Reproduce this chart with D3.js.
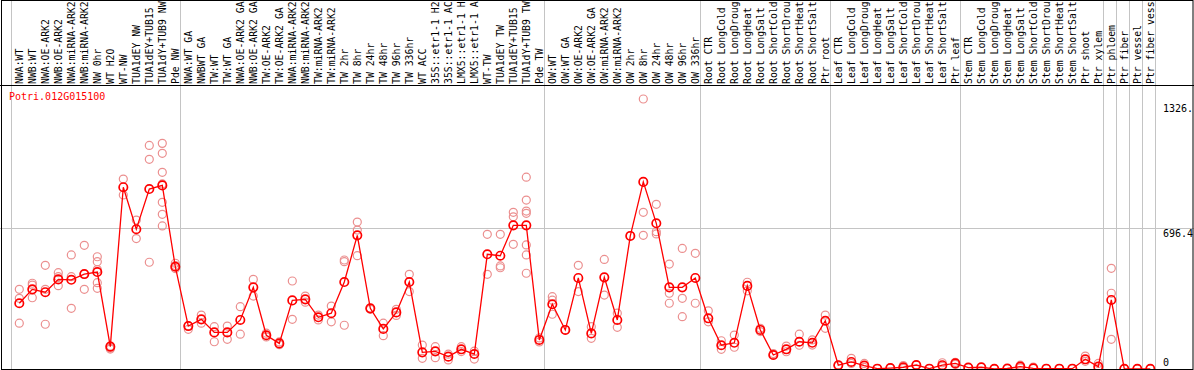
<!DOCTYPE html>
<html><head><meta charset="utf-8">
<script src="https://cdn.jsdelivr.net/npm/d3@7"></script>
<style>
body{margin:0;background:#fff}
svg{display:block}
text{font-family:"DejaVu Sans Mono",monospace;font-size:10px}
</style>
</head><body>
<svg id="c" width="1194" height="370"></svg>
<script>
const title = "Potri.012G015100";
const categories = [
"NWA:WT","NWB:WT","NWA:OE-ARK2","NWB:OE-ARK2","NWA:miRNA-ARK2","NWB:miRNA-ARK2","NW 0hr","WT H2O","WT-NW","TUA1dEY NW","TUA1dEY+TUB15 NW","TUA1dY+TUB9 NW","Pde NW",
"NWA:WT GA","NWBWT GA","TW:WT","TW:WT GA","NWA:OE-ARK2 GA","NWB:OE-ARK2 GA","TW:OE-ARK2","TW:OE-ARK2 GA","NWA:miRNA-ARK2","NWB:miRNA-ARK2","TW:miRNA-ARK2","TW:miRNA-ARK2",
"TW 2hr","TW 8hr","TW 24hr","TW 48hr","TW 96hr","TW 336hr","WT ACC","35S::etr1-1 H2O","35S::etr1-1 ACC","LMX5::etr1-1 H2O","LMX5::etr1-1 ACC","WT-TW","TUA1dEY TW","TUA1dEY+TUB15 TW","TUA1dY+TUB9 TW","Pde TW",
"OW:WT","OW:WT GA","OW:OE-ARK2","OW:OE-ARK2 GA","OW:miRNA-ARK2","OW:miRNA-ARK2","OW 2hr","OW 8hr","OW 24hr","OW 48hr","OW 96hr","OW 336hr",
"Root CTR","Root LongCold","Root LongDrought","Root LongHeat","Root LongSalt","Root ShortCold","Root ShortDrought","Root ShortHeat","Root ShortSalt","Ptr root",
"Leaf CTR","Leaf LongCold","Leaf LongDrought","Leaf LongHeat","Leaf LongSalt","Leaf ShortCold","Leaf ShortDrought","Leaf ShortHeat","Leaf ShortSalt","Ptr leaf",
"Stem CTR","Stem LongCold","Stem LongDrought","Stem LongHeat","Stem LongSalt","Stem ShortCold","Stem ShortDrought","Stem ShortHeat","Stem ShortSalt","Ptr shoot",
"Ptr xylem","Ptr phloem","Ptr fiber","Ptr vessel","Ptr fiber vessel"
];
const means = [
325,393,379,442,440,468,478,112,894,688,885,903,504,
213,246,182,182,243,403,168,128,339,344,256,276,
429,658,300,199,280,429,84,89,63,99,76,565,558,707,707,145,
320,194,449,177,452,243,655,920,717,403,403,449,
251,119,131,410,194,71,99,136,131,239,
21,37,19,4,7,11,22,4,21,30,
9,11,3,5,14,6,4,4,4,50,
14,341,3,3,3
];
const replicates = [
[393,349,227],[423,414,352],[511,393,222],[475,455,411],[562,455,300],[609,393,468],[553,529,426,398,490],[105,100,115],[934,856],[733,642],[1099,1031,526],[1109,1060,967,910,820,761,704],[521,495,510],
[197,215],[267,227],[210,136],[213,148],[308,173],[442,360],[178,160],[135,122],[434,246],[360,330],[267,243],[311,234],
[537,529,217],[723,684,558],[300,295],[227,166],[295,265],[467,382],[120,55],[112,58],[75,47],[112,88],[90,51],[663,467],[663,508,499],[771,749,614],[943,831,777,766,611,562,472],[155,135],
[357,340,271],[194],[511,382],[210,153],[540,365],[276,207],[655],[1326.5,771,658],[810,676,665],[517,374,325],[594,349,259],[570,325],
[288,234],[141,99],[169,109],[428,386],[202,186],[78,70],[115,87],[173,119],[145,120],[267,202],
[22,18],[55,30],[30,10],[4],[8],[19,5],[22],[4],[33,15],[35,25],
[9],[11],[3],[5],[21,8],[12],[4],[4],[4],[66,40],
[30,5],[496,374,148],[3],[3],[3]
];
const groupEnds = [-1,12,40,52,62,72,83,84,85,86,87];
const yTickValues = [1326.5, 696.4, 0];
const yTickLabels = ["1326.", "696.4", "0"];

const W = 1194, H = 370;
const MAXCHARS = 14;
const svg = d3.select("#c");
const n = categories.length;
const x = d3.scalePoint().domain(d3.range(n)).range([19.3, 19.3 + 13*(n-1)]);
const step = x.step();
const ymax = d3.max(replicates.flat().concat(means)) * 1.05;
const y = d3.scaleLinear().domain([0, ymax]).range([369.5, 85.5]);

// vertical group separators
svg.append("g").selectAll("line").data(groupEnds).join("line")
  .attr("x1", d => Math.round(x(0) + step*d + 5) + 0.5)
  .attr("x2", d => Math.round(x(0) + step*d + 5) + 0.5)
  .attr("y1", 0).attr("y2", H)
  .attr("stroke", "#c4c4c4").attr("stroke-width", 1);

// horizontal mid gridline
svg.append("line")
  .attr("x1", 0).attr("x2", W)
  .attr("y1", Math.round(y(ymax/2)) + 0.5).attr("y2", Math.round(y(ymax/2)) + 0.5)
  .attr("stroke", "#c4c4c4");

// replicate points
const reps = [];
replicates.forEach((arr, i) => arr.forEach(v => reps.push({i, v})));
svg.append("g").selectAll("circle").data(reps).join("circle")
  .attr("cx", d => x(d.i)).attr("cy", d => y(d.v)).attr("r", 4)
  .attr("fill", "none").attr("stroke", "#eb8f8f").attr("stroke-width", 1.2);

// mean line
svg.append("path")
  .datum(means)
  .attr("d", d3.line().x((d, i) => x(i)).y(d => y(d)))
  .attr("fill", "none").attr("stroke", "#ff0000").attr("stroke-width", 1.3);

svg.append("g").selectAll("circle").data(means).join("circle")
  .attr("cx", (d, i) => x(i)).attr("cy", d => y(d)).attr("r", 4.2)
  .attr("fill", "none").attr("stroke", "#ff0000").attr("stroke-width", 1.7);

// frame
svg.append("rect").attr("x", 1.5).attr("y", 0.5).attr("width", W - 2.5).attr("height", 369)
  .attr("fill", "none").attr("stroke", "#000");
svg.append("line").attr("x1", 0).attr("x2", W).attr("y1", 85.5).attr("y2", 85.5).attr("stroke", "#000");

// category labels (shown truncated to the space available, as in the reference)
svg.append("g").selectAll("text").data(categories).join("text")
  .attr("transform", (d, i) => `translate(${x(i) + 3.5},84) rotate(-90)`)
  .attr("fill", "#000")
  .style("font-size", "9.8px")
  .text(d => d.length > MAXCHARS ? d.slice(0, MAXCHARS).trimEnd() : d);

// title
svg.append("text").attr("x", 9).attr("y", 100).attr("fill", "#ff0000").text(title);

// y labels
const dyOff = [12.5, 9, -3.5];
svg.append("g").selectAll("text").data(yTickValues).join("text")
  .attr("x", 1163).attr("y", (d, i) => Math.min(y(d) + dyOff[i], 366))
  .attr("fill", "#000")
  .text((d, i) => yTickLabels[i]);
</script>
</body></html>
